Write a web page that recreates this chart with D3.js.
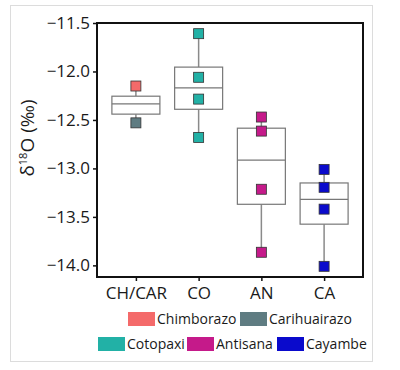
<!DOCTYPE html>
<html>
<head>
<meta charset="utf-8">
<script src="https://cdn.jsdelivr.net/npm/d3@7"></script>
<style>
  body { margin: 0; background: #fff; }
  text { font-family: "Open Sans", sans-serif; fill: #1a1a1a; }
</style>
</head>
<body>
<svg id="chart" width="400" height="370"></svg>
<script>
// Categories and box statistics
const categories = ["CH/CAR", "CO", "AN", "CA"];
const boxQ1 = [-12.44, -12.39, -13.37, -13.575];
const boxMedian = [-12.335, -12.17, -12.915, -13.32];
const boxQ3 = [-12.255, -11.955, -12.585, -13.15];

// Individual samples: category, volcano, value
const sampleCat = ["CH/CAR", "CH/CAR", "CO", "CO", "CO", "CO", "AN", "AN", "AN", "AN", "CA", "CA", "CA", "CA"];
const sampleVolcano = ["Chimborazo", "Carihuairazo", "Cotopaxi", "Cotopaxi", "Cotopaxi", "Cotopaxi",
  "Antisana", "Antisana", "Antisana", "Antisana", "Cayambe", "Cayambe", "Cayambe", "Cayambe"];
const sampleValue = [-12.15, -12.53, -11.61, -12.06, -12.285, -12.68,
  -12.47, -12.615, -13.215, -13.865, -13.01, -13.195, -13.42, -14.01];

// Legend
const volcanoes = ["Chimborazo", "Carihuairazo", "Cotopaxi", "Antisana", "Cayambe"];
const volcanoColors = ["#f46a6a", "#5f7c82", "#22b1a6", "#c51a8a", "#0a0acc"];

const yTicks = [-11.5, -12.0, -12.5, -13.0, -13.5, -14.0];

const margin = {top: 23, right: 37, bottom: 93, left: 97};
const width = 400 - margin.left - margin.right;
const height = 370 - margin.top - margin.bottom;

const svg = d3.select("#chart");

// outer light frame
svg.append("rect")
  .attr("x", 10.5).attr("y", 5.5)
  .attr("width", 362).attr("height", 356)
  .attr("fill", "none")
  .attr("stroke", "#dcdcdc")
  .attr("stroke-width", 1);

const g = svg.append("g")
  .attr("transform", `translate(${margin.left}, ${margin.top})`);

const x = d3.scalePoint().domain(categories).range([0, width]).padding(0.62);
const y = d3.scaleLinear().domain([-14.12, -11.5]).range([height, 0]);
const color = d3.scaleOrdinal().domain(volcanoes).range(volcanoColors);

const boxW = 48;
const fmt = d => d3.format(".1f")(d).replace("-", "\u2212");

// whiskers
categories.forEach((c, i) => {
  let vals = sampleValue.filter((v, j) => sampleCat[j] === c);
  let lo = d3.min(vals), hi = d3.max(vals);
  g.append("line")
    .attr("x1", x(c)).attr("x2", x(c))
    .attr("y1", y(hi)).attr("y2", y(boxQ3[i]))
    .attr("stroke", "#8a8a8a").attr("stroke-width", 1.5);
  g.append("line")
    .attr("x1", x(c)).attr("x2", x(c))
    .attr("y1", y(boxQ1[i])).attr("y2", y(lo))
    .attr("stroke", "#8a8a8a").attr("stroke-width", 1.5);
});

// boxes
g.selectAll("rect.box")
  .data(categories)
  .enter().append("rect")
    .attr("class", "box")
    .attr("x", d => x(d) - boxW / 2)
    .attr("y", (d, i) => y(boxQ3[i]))
    .attr("width", boxW)
    .attr("height", (d, i) => y(boxQ1[i]) - y(boxQ3[i]))
    .attr("fill", "#fff")
    .attr("stroke", "#777")
    .attr("stroke-width", 1.2);

// medians
g.selectAll("line.median")
  .data(categories)
  .enter().append("line")
    .attr("class", "median")
    .attr("x1", d => x(d) - boxW / 2)
    .attr("x2", d => x(d) + boxW / 2)
    .attr("y1", (d, i) => y(boxMedian[i]))
    .attr("y2", (d, i) => y(boxMedian[i]))
    .attr("stroke", "#777")
    .attr("stroke-width", 1.2);

// sample squares
const sq = 10;
g.selectAll("rect.pt")
  .data(sampleValue)
  .enter().append("rect")
    .attr("class", "pt")
    .attr("x", (d, i) => x(sampleCat[i]) - sq / 2)
    .attr("y", d => y(d) - sq / 2)
    .attr("width", sq).attr("height", sq)
    .attr("fill", (d, i) => color(sampleVolcano[i]))
    .attr("stroke", "#333")
    .attr("stroke-width", 0.8);

// frame
g.append("rect")
  .attr("x", 0).attr("y", 0)
  .attr("width", width).attr("height", height)
  .attr("fill", "none")
  .attr("stroke", "#111")
  .attr("stroke-width", 2);

// axes
const yAxis = g.append("g")
  .call(d3.axisLeft(y).tickValues(yTicks).tickFormat(fmt).tickSize(4).tickPadding(3));
yAxis.select(".domain").remove();
yAxis.selectAll("line").attr("stroke", "#111").attr("stroke-width", 1.5);
yAxis.selectAll("text").style("font-size", "17px").attr("fill", "#1a1a1a");

const xAxis = g.append("g")
  .attr("transform", `translate(0, ${height})`)
  .call(d3.axisBottom(x).tickSize(4).tickPadding(6));
xAxis.select(".domain").remove();
xAxis.selectAll("line").attr("stroke", "#111").attr("stroke-width", 1.5);
xAxis.selectAll("text").style("font-size", "17px").attr("fill", "#1a1a1a");

// y label
const yl = svg.append("text")
  .attr("transform", "translate(34, 138) rotate(-90)")
  .attr("text-anchor", "middle")
  .style("font-size", "19px");
yl.append("tspan").text("δ");
yl.append("tspan").attr("dy", -7).style("font-size", "11px").text("18");
yl.append("tspan").attr("dy", 7).text("O (‰)");

// legend
const legendPos = [[128, 312], [240, 312], [98, 337], [187, 337], [277, 337]];
const lg = svg.selectAll("g.legend")
  .data(volcanoes)
  .enter().append("g")
    .attr("class", "legend")
    .attr("transform", (d, i) => `translate(${legendPos[i][0]}, ${legendPos[i][1]})`);
lg.append("rect")
  .attr("width", 27).attr("height", 14)
  .attr("fill", d => color(d));
lg.append("text")
  .attr("x", 29).attr("y", 12)
  .style("font-size", "14px")
  .text(d => d);
</script>
</body>
</html>
